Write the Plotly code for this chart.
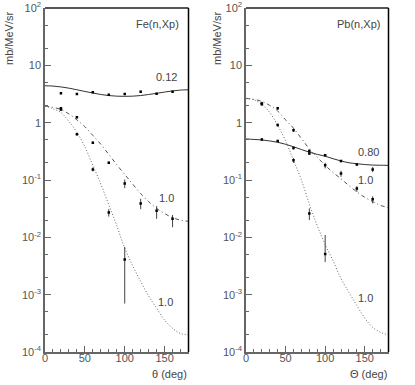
import numpy as np
import plotly.graph_objects as go

# 曲线采样角度 (deg)
theta = [0, 10, 20, 30, 40, 50, 60, 70, 80, 90, 100, 110, 120, 130, 140, 150, 160, 170, 180]

# Fe(n,Xp) 计算曲线
fe_curve_012 = [4.4, 4.35, 4.2, 4.0, 3.75, 3.5, 3.3, 3.1, 2.97, 2.9, 2.88, 2.9, 2.97, 3.1, 3.25, 3.42, 3.58, 3.7, 3.75]
fe_curve_10a = [1.95, 1.85, 1.7, 1.42, 1.12, 0.85, 0.6, 0.42, 0.28, 0.185, 0.125, 0.085, 0.058, 0.042, 0.032, 0.026, 0.022, 0.02, 0.019]
fe_curve_10b = [1.95, 1.75, 1.5, 1.05, 0.68, 0.38, 0.18, 0.085, 0.037, 0.016, 0.0065, 0.0032, 0.0017, 0.00095, 0.00058, 0.00036, 0.00026, 0.00021, 0.0002]

# Pb(n,Xp) 计算曲线
pb_curve_080 = [0.52, 0.51, 0.5, 0.48, 0.455, 0.42, 0.38, 0.34, 0.305, 0.28, 0.26, 0.235, 0.215, 0.2, 0.192, 0.186, 0.182, 0.181, 0.18]
pb_curve_10a = [2.65, 2.55, 2.35, 2.0, 1.6, 1.12, 0.8, 0.53, 0.35, 0.25, 0.18, 0.135, 0.105, 0.08, 0.062, 0.05, 0.042, 0.036, 0.033]
pb_curve_10b = [2.65, 2.5, 2.1, 1.5, 0.9, 0.48, 0.22, 0.1, 0.038, 0.016, 0.0075, 0.0039, 0.0019, 0.0011, 0.00065, 0.00039, 0.00027, 0.00022, 0.0002]

# 实验数据点
fe_x_012 = [20, 40, 60, 80, 100, 120, 140, 160]
fe_y_012 = [3.25, 3.15, 3.38, 3.07, 3.15, 3.46, 3.19, 3.46]
fe_e_012 = [0.1, 0.1, 0.1, 0.1, 0.1, 0.15, 0.1, 0.1]

fe_x_10a = [20, 40, 60, 80, 100, 120, 140, 160]
fe_y_10a = [1.78, 1.24, 0.447, 0.2, 0.087, 0.039, 0.029, 0.021]
fe_ep_10a = [0.08, 0.05, 0.02, 0.01, 0.015, 0.008, 0.006, 0.0035]
fe_em_10a = [0.08, 0.05, 0.02, 0.01, 0.015, 0.008, 0.008, 0.006]

fe_x_10b = [20, 40, 60, 80, 100]
fe_y_10b = [1.7, 0.63, 0.153, 0.027, 0.0041]
fe_ep_10b = [0.08, 0.03, 0.012, 0.004, 0.0027]
fe_em_10b = [0.08, 0.03, 0.012, 0.004, 0.0034]

pb_x_080 = [20, 40, 60, 80, 100, 120, 140, 160]
pb_y_080 = [0.51, 0.48, 0.36, 0.29, 0.27, 0.214, 0.187, 0.153]
pb_e_080 = [0.02, 0.02, 0.02, 0.015, 0.012, 0.01, 0.01, 0.016]

pb_x_10a = [20, 40, 60, 80, 100, 120, 140, 160]
pb_y_10a = [2.17, 1.78, 0.74, 0.32, 0.18, 0.13, 0.071, 0.046]
pb_ep_10a = [0.15, 0.1, 0.05, 0.02, 0.02, 0.015, 0.007, 0.006]
pb_em_10a = [0.15, 0.1, 0.05, 0.02, 0.021, 0.016, 0.009, 0.007]

pb_x_10b = [20, 40, 60, 80, 100]
pb_y_10b = [2.1, 0.91, 0.22, 0.026, 0.0051]
pb_ep_10b = [0.1, 0.05, 0.02, 0.006, 0.0059]
pb_em_10b = [0.1, 0.05, 0.02, 0.006, 0.0014]

y_tickvals = [1e-4, 1e-3, 1e-2, 1e-1, 1, 10, 100]
y_ticktext = ['10<sup>-4</sup>', '10<sup>-3</sup>', '10<sup>-2</sup>', '10<sup>-1</sup>', '1', '10', '10<sup>2</sup>']
x_tickvals = [0, 50, 100, 150]

FONT = 'Liberation Sans'
GRAY = '#666666'

fig = go.Figure()


def add_curve(xa, ya, y, dash, color):
    fig.add_trace(go.Scatter(x=theta, y=y, mode='lines', xaxis=xa, yaxis=ya,
                             line=dict(color=color, width=1, dash=dash, shape='spline'),
                             showlegend=False, hoverinfo='skip'))


def add_points(xa, ya, x, y, ep, em):
    fig.add_trace(go.Scatter(x=x, y=y, mode='markers', xaxis=xa, yaxis=ya,
                             marker=dict(symbol='square', size=2.5, color='black'),
                             error_y=dict(type='data', array=ep, arrayminus=em, color='#444444',
                                          thickness=1, width=0),
                             showlegend=False))


# 左图 Fe
add_curve('x', 'y', fe_curve_012, 'solid', '#333333')
add_curve('x', 'y', fe_curve_10a, '4px,3px,1px,3px', '#555555')
add_curve('x', 'y', fe_curve_10b, '1px,2px', '#666666')
add_points('x', 'y', fe_x_012, fe_y_012, fe_e_012, fe_e_012)
add_points('x', 'y', fe_x_10a, fe_y_10a, fe_ep_10a, fe_em_10a)
add_points('x', 'y', fe_x_10b, fe_y_10b, fe_ep_10b, fe_em_10b)

# 右图 Pb
add_curve('x2', 'y2', pb_curve_080, 'solid', '#333333')
add_curve('x2', 'y2', pb_curve_10a, '4px,3px,1px,3px', '#555555')
add_curve('x2', 'y2', pb_curve_10b, '1px,2px', '#666666')
add_points('x2', 'y2', pb_x_080, pb_y_080, pb_e_080, pb_e_080)
add_points('x2', 'y2', pb_x_10a, pb_y_10a, pb_ep_10a, pb_em_10a)
add_points('x2', 'y2', pb_x_10b, pb_y_10b, pb_ep_10b, pb_em_10b)

W, H = 415, 385
top = 1 - 8 / H
bottom = 1 - 352 / H

xaxis_common = dict(range=[0, 180], tickvals=x_tickvals, ticks='inside', ticklen=6, tickcolor=GRAY,
                    showline=True, linecolor=GRAY, linewidth=1.5, showgrid=False, zeroline=False,
                    automargin=False, ticklabelstandoff=-5,
                    minor=dict(ticks='inside', ticklen=3, dtick=10, tickcolor=GRAY, showgrid=False),
                    tickfont=dict(family=FONT, size=11, color='#555555'))
yaxis_common = dict(type='log', range=[-4, 2], tickvals=y_tickvals, ticktext=y_ticktext,
                    ticks='inside', ticklen=6, tickcolor=GRAY, automargin=False,
                    showline=True, linecolor=GRAY, linewidth=1.5, showgrid=False, zeroline=False,
                    minor=dict(ticks='inside', ticklen=3, tickcolor=GRAY, showgrid=False),
                    tickfont=dict(family=FONT, size=11, color='#555555'))

fig.update_layout(
    width=W, height=H,
    margin=dict(l=0, r=0, t=0, b=0, autoexpand=False),
    paper_bgcolor='white', plot_bgcolor='white',
    xaxis=dict(domain=[45 / W, 188.5 / W], anchor='y', **xaxis_common),
    yaxis=dict(domain=[bottom, top], anchor='x', **yaxis_common),
    xaxis2=dict(domain=[246 / W, 388.5 / W], anchor='y2', **xaxis_common),
    yaxis2=dict(domain=[bottom, top], anchor='x2', **yaxis_common),
)

# 上边框和右边框
for xd, yd in [('x domain', 'y domain'), ('x2 domain', 'y2 domain')]:
    fig.add_shape(type='line', xref=xd, yref=yd, x0=0, x1=1, y0=1, y1=1, line=dict(color='#555555', width=2))
    fig.add_shape(type='line', xref=xd, yref=yd, x0=1, x1=1, y0=0, y1=1, line=dict(color='black', width=1.5))

txt = dict(family=FONT, size=11, color='#444444')
annotations = [
    dict(text='Fe(n,Xp)', x=170, y=np.log10(52), xref='x', yref='y', xanchor='right'),
    dict(text='0.12', x=153, y=0.80, xref='x', yref='y'),
    dict(text='1.0', x=152, y=-1.32, xref='x', yref='y'),
    dict(text='1.0', x=151, y=-3.13, xref='x', yref='y'),
    dict(text='Pb(n,Xp)', x=172, y=np.log10(52), xref='x2', yref='y2', xanchor='right'),
    dict(text='0.80', x=155, y=-0.51, xref='x2', yref='y2'),
    dict(text='1.0', x=151, y=-1.0, xref='x2', yref='y2'),
    dict(text='1.0', x=151, y=-3.05, xref='x2', yref='y2'),
    dict(text='θ (deg)', x=188.5 / W, y=1 - 374 / H, xref='paper', yref='paper', xanchor='right'),
    dict(text='Θ (deg)', x=388.5 / W, y=1 - 374 / H, xref='paper', yref='paper', xanchor='right'),
    dict(text='mb/MeV/sr', x=9 / W, y=1 - 9 / H, xref='paper', yref='paper', textangle=-90, yanchor='top'),
    dict(text='mb/MeV/sr', x=217 / W, y=1 - 9 / H, xref='paper', yref='paper', textangle=-90, yanchor='top'),
]
for a in annotations:
    a.setdefault('xanchor', 'center')
    a.setdefault('yanchor', 'middle')
    fig.add_annotation(showarrow=False, font=txt, **a)

# 去掉页面默认边距，使图从左上角开始；隐藏工具栏
fig.write_html('out.html', config={'displayModeBar': False},
               post_script="document.body.style.margin='0';")
